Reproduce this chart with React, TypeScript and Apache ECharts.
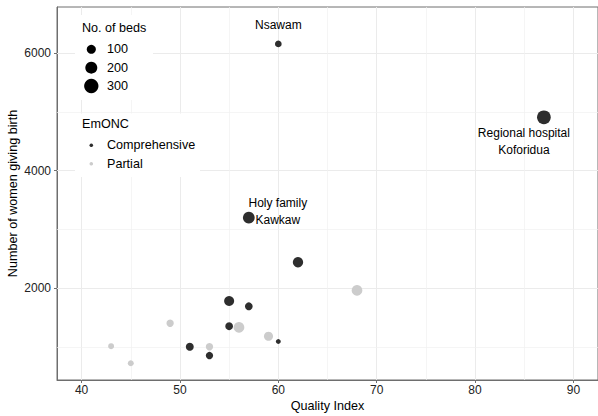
import React, { useEffect, useRef } from 'react';
import * as echarts from 'echarts';

// ---- data ----
const facilityNames = [
  'Nsawam', 'Regional hospital\nKoforidua', 'Holy family\nKawkaw', '', '', '', '', '', '', '', '', '', '', '', '', '', '',
];
const qualityIndex = [60, 87, 57, 62, 68, 55, 57, 49, 55, 56, 59, 60, 43, 51, 53, 53, 45];
const womenGivingBirth = [6160, 4910, 3200, 2440, 1960, 1780, 1690, 1400, 1350, 1330, 1180, 1090, 1010, 1000, 1000, 850, 720];
const numberOfBeds = [40, 270, 190, 140, 150, 130, 65, 55, 65, 150, 100, 5, 25, 70, 55, 55, 25];
const emonc = [
  'Comprehensive', 'Comprehensive', 'Comprehensive', 'Comprehensive', 'Partial', 'Comprehensive',
  'Comprehensive', 'Partial', 'Comprehensive', 'Partial', 'Partial', 'Comprehensive', 'Partial',
  'Comprehensive', 'Partial', 'Comprehensive', 'Partial',
];
const emoncLevels = ['Comprehensive', 'Partial'];
const bedLegendValues = [100, 200, 300];
const xTicks = [40, 50, 60, 70, 80, 90];
const xMinor = [45, 55, 65, 75, 85];
const yTicks = [2000, 4000, 6000];
const yMinor = [1000, 3000, 5000];

// ---- styling ----
const FONT = 'Liberation Sans, Arial, Helvetica, sans-serif';
const levelColors: Record<string, string> = { Comprehensive: '#2e2e2e', Partial: '#cccccc' };
const labelOffsets: Record<string, number[]> = {
  'Nsawam': [0, -19],
  'Regional hospital\nKoforidua': [-20, 24],
  'Holy family\nKawkaw': [29, -6],
};
const sizeOf = (beds: number) => Math.sqrt(20 + 0.62 * beds);
const AXIS_COLOR = '#6e6e6e';
const LEG_FS = 12.6;

export default function App() {
  const ref = useRef<HTMLDivElement>(null);
  useEffect(() => {
    document.body.style.margin = '0';
    const chart = echarts.init(ref.current!, null, { renderer: 'svg' });

    const dataSeries = emoncLevels.map((level) => {
      const items: any[] = [];
      qualityIndex.forEach((q, i) => {
        if (emonc[i] !== level) return;
        const name = facilityNames[i];
        const item: any = { value: [q, womenGivingBirth[i], numberOfBeds[i], name] };
        if (name) {
          item.label = {
            show: true,
            position: 'inside',
            offset: labelOffsets[name],
            formatter: name,
            color: '#000000',
            fontSize: 12,
            lineHeight: 17,
            fontFamily: FONT,
          };
        }
        items.push(item);
      });
      return {
        type: 'scatter',
        name: level,
        z: 3,
        data: items,
        symbol: 'circle',
        symbolSize: (v: number[]) => sizeOf(v[2]),
        itemStyle: { color: levelColors[level], opacity: 1 },
        label: { show: false },
        emphasis: { disabled: true },
      };
    });

    const gridSeries = {
      type: 'scatter',
      z: 1,
      data: [],
      silent: true,
      markLine: {
        z: 1,
        silent: true,
        symbol: ['none', 'none'],
        label: { show: false },
        emphasis: { disabled: true },
        animation: false,
        data: [
          ...xTicks.map((v) => ({ xAxis: v, lineStyle: { color: '#ebebeb', width: 1, type: 'solid' } })),
          ...yTicks.map((v) => ({ yAxis: v, lineStyle: { color: '#ebebeb', width: 1, type: 'solid' } })),
          ...xMinor.map((v) => ({ xAxis: v, lineStyle: { color: '#f0f0f0', width: 0.7, type: 'solid' } })),
          ...yMinor.map((v) => ({ yAxis: v, lineStyle: { color: '#f0f0f0', width: 0.7, type: 'solid' } })),
        ],
      },
    };

    const legendGraphics: any[] = [
      { type: 'rect', shape: { x: 75, y: 15, width: 78, height: 85 }, style: { fill: '#ffffff' }, z: 20 },
      { type: 'rect', shape: { x: 75, y: 113.5, width: 125, height: 63.5 }, style: { fill: '#ffffff' }, z: 20 },
      {
        type: 'text', x: 82, y: 27.7, z: 21,
        style: { text: 'No. of beds', fontSize: LEG_FS, fontFamily: FONT, fill: '#000', verticalAlign: 'middle' },
      },
      {
        type: 'text', x: 82, y: 124.3, z: 21,
        style: { text: 'EmONC', fontSize: LEG_FS, fontFamily: FONT, fill: '#000', verticalAlign: 'middle' },
      },
    ];
    bedLegendValues.forEach((b, i) => {
      const y = 49.3 + i * 18.35;
      legendGraphics.push({ type: 'circle', shape: { cx: 91.3, cy: y, r: sizeOf(b) / 2 }, style: { fill: '#000' }, z: 21 });
      legendGraphics.push({
        type: 'text', x: 107, y, z: 21,
        style: { text: String(b), fontSize: LEG_FS, fontFamily: FONT, fill: '#000', verticalAlign: 'middle' },
      });
    });
    emoncLevels.forEach((lvl, i) => {
      const y = 145.3 + i * 18.4;
      legendGraphics.push({ type: 'circle', shape: { cx: 91.3, cy: y, r: 1.8 }, style: { fill: levelColors[lvl] }, z: 21 });
      legendGraphics.push({
        type: 'text', x: 107, y, z: 21,
        style: { text: lvl, fontSize: LEG_FS, fontFamily: FONT, fill: '#000', verticalAlign: 'middle' },
      });
    });

    const option: any = {
      animation: false,
      backgroundColor: '#ffffff',
      textStyle: { fontFamily: FONT },
      grid: {
        left: 57, right: 0, top: 7, bottom: 36,
        outerBoundsMode: 'none',
        containLabel: false,
        show: true, borderColor: AXIS_COLOR, borderWidth: 1, backgroundColor: 'transparent',
      },
      xAxis: {
        type: 'value',
        min: 37.5,
        max: 92.5,
        name: 'Quality Index',
        nameLocation: 'middle',
        nameGap: 19,
        nameMoveOverlap: false,
        nameTextStyle: { fontSize: LEG_FS, color: '#000', fontFamily: FONT },
        axisLine: { show: true, lineStyle: { color: AXIS_COLOR, width: 1 } },
        axisTick: { show: true, length: 3, customValues: xTicks, lineStyle: { color: AXIS_COLOR } },
        axisLabel: { customValues: xTicks, margin: 4, fontSize: 12, color: '#222', fontFamily: FONT },
        splitLine: { show: false },
      },
      yAxis: {
        type: 'value',
        min: 434,
        max: 6789,
        name: 'Number of women giving birth',
        nameLocation: 'middle',
        nameGap: 38,
        nameMoveOverlap: false,
        nameTextStyle: { fontSize: LEG_FS, color: '#000', fontFamily: FONT },
        axisLine: { show: true, lineStyle: { color: AXIS_COLOR, width: 1 } },
        axisTick: { show: true, length: 3, customValues: yTicks, lineStyle: { color: AXIS_COLOR } },
        axisLabel: {
          customValues: yTicks, margin: 6, fontSize: 12, color: '#222', fontFamily: FONT,
          formatter: (v: number) => String(v),
        },
        splitLine: { show: false },
      },
      graphic: legendGraphics,
      series: [gridSeries, ...dataSeries],
    };

    chart.setOption(option);
    return () => chart.dispose();
  }, []);
  return <div ref={ref} style={{ width: 598, height: 416 }} />;
}
